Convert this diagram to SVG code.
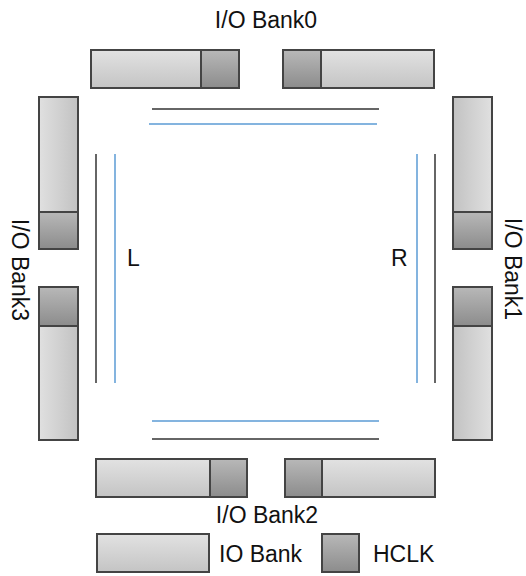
<svg xmlns="http://www.w3.org/2000/svg" width="526" height="576" viewBox="0 0 526 576">
<defs>
<linearGradient id="gv" x1="0" y1="0" x2="0" y2="1"><stop offset="0" stop-color="#e2e2e2"/><stop offset="1" stop-color="#c4c4c4"/></linearGradient>
<linearGradient id="gl" x1="0" y1="0" x2="1" y2="0"><stop offset="0" stop-color="#e0e0e0"/><stop offset="1" stop-color="#c2c2c2"/></linearGradient>
<linearGradient id="gr" x1="0" y1="0" x2="1" y2="0"><stop offset="0" stop-color="#c2c2c2"/><stop offset="1" stop-color="#e0e0e0"/></linearGradient>
<linearGradient id="gh" x1="0" y1="0" x2="0" y2="1"><stop offset="0" stop-color="#b8b8b8"/><stop offset="1" stop-color="#8c8c8c"/></linearGradient>
</defs>
<style>
.io{stroke:#444;stroke-width:2}
.hc{fill:url(#gh);stroke:#444;stroke-width:2}
.t{font-family:"Liberation Sans",Arial,sans-serif;font-size:23px;fill:#111}
.bk{stroke:#333;stroke-width:1.5}
.bl{stroke:#5b9bd5;stroke-width:1.5}
</style>
<g id="bank0">
<rect class="io" x="91" y="50" width="148" height="38" fill="url(#gv)"/>
<rect class="hc" x="201" y="50" width="38" height="38"/>
<rect class="io" x="283" y="50" width="151" height="38" fill="url(#gv)"/>
<rect class="hc" x="283" y="50" width="38" height="38"/>
<text class="t" x="266" y="28" text-anchor="middle">I/O Bank0</text>
</g>
<g id="bank3">
<rect class="io" x="39" y="97" width="39" height="152" fill="url(#gl)"/>
<rect class="hc" x="39" y="212" width="39" height="37"/>
<rect class="io" x="39" y="287" width="39" height="153" fill="url(#gl)"/>
<rect class="hc" x="39" y="287" width="39" height="39"/>
<text class="t" transform="translate(12,270) rotate(90)" text-anchor="middle">I/O Bank3</text>
</g>
<g id="bank1">
<rect class="io" x="453" y="97" width="39" height="152" fill="url(#gr)"/>
<rect class="hc" x="453" y="212" width="39" height="37"/>
<rect class="io" x="453" y="287" width="39" height="153" fill="url(#gr)"/>
<rect class="hc" x="453" y="287" width="39" height="39"/>
<text class="t" transform="translate(505,269) rotate(90)" text-anchor="middle">I/O Bank1</text>
</g>
<g id="bank2">
<rect class="io" x="96" y="459" width="151" height="38" fill="url(#gv)"/>
<rect class="hc" x="210" y="459" width="37" height="38"/>
<rect class="io" x="285" y="459" width="150" height="38" fill="url(#gv)"/>
<rect class="hc" x="285" y="459" width="37" height="38"/>
<text class="t" x="267" y="523" text-anchor="middle">I/O Bank2</text>
</g>
<g id="clock-lines">
<line class="bk" x1="152" y1="109" x2="379" y2="109"/>
<line class="bl" x1="149" y1="124" x2="377" y2="124"/>
<line class="bl" x1="152" y1="421" x2="379" y2="421"/>
<line class="bk" x1="152" y1="439" x2="379" y2="439"/>
<line class="bk" x1="96" y1="154" x2="96" y2="383"/>
<line class="bl" x1="115" y1="154" x2="115" y2="383"/>
<line class="bl" x1="417" y1="154" x2="417" y2="383"/>
<line class="bk" x1="435" y1="154" x2="435" y2="383"/>
</g>
<g id="label-L"><text class="t" x="127" y="266">L</text></g>
<g id="label-R"><text class="t" x="391" y="266">R</text></g>
<g id="legend">
<rect class="io" x="97" y="534" width="112" height="38" fill="url(#gv)"/>
<text class="t" x="219" y="562">IO Bank</text>
<rect class="hc" x="322" y="534" width="37" height="38"/>
<text class="t" x="373" y="562">HCLK</text>
</g>
</svg>
